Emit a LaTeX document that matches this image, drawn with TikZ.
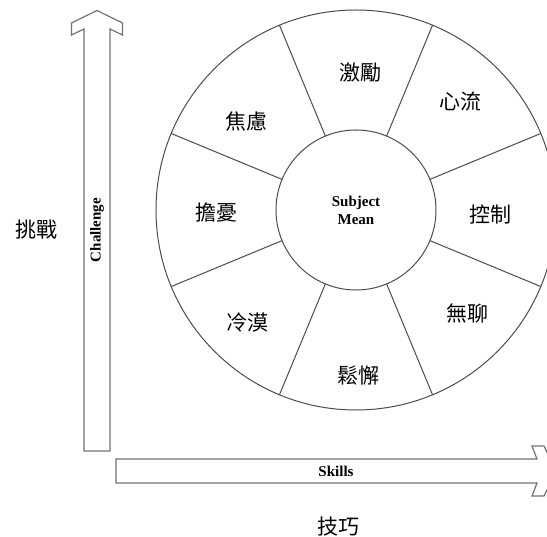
\documentclass[tikz,border=0pt]{standalone}
\usepackage{fontspec}
\setmainfont{Liberation Serif}
\newfontfamily\cjk{Noto Sans CJK TC}
\begin{document}
\begin{tikzpicture}[x=1pt, y=1pt,
    cjklabel/.style={font=\cjk\fontsize{21}{21}\selectfont},
    enlabel/.style={font=\bfseries\fontsize{15}{18}\selectfont}]

    \def\rin{80}
    \def\rout{200}
    \colorlet{ringcolor}{black!70}
    \colorlet{arrowcolor}{black!55}

    \useasboundingbox (-356,-327) rectangle (191,210);
    \clip (-356,-327) rectangle (191,210);

    % ring of eight sectors
    \draw[ringcolor, line width=1pt] (0,0) circle (\rout)
                                      (0,0) circle (\rin);
    \draw[ringcolor, line width=1pt] (22.5:\rin)  -- (22.5:\rout)
                                      (67.5:\rin)  -- (67.5:\rout)
                                      (112.5:\rin) -- (112.5:\rout)
                                      (157.5:\rin) -- (157.5:\rout)
                                      (202.5:\rin) -- (202.5:\rout)
                                      (247.5:\rin) -- (247.5:\rout)
                                      (292.5:\rin) -- (292.5:\rout)
                                      (337.5:\rin) -- (337.5:\rout);

    % hollow arrows
    \draw[arrowcolor, line width=1.2pt] (-272,-241) -- (-272,181) -- (-284.5,175)
        -- (-284.5,187) -- (-259,199.5) -- (-233.5,187) -- (-233.5,175)
        -- (-246,181) -- (-246,-241) -- cycle;
    \draw[arrowcolor, line width=1.2pt] (-240,-249) -- (181,-249) -- (176,-236)
        -- (188,-236) -- (200.5,-261) -- (188,-286) -- (176,-286)
        -- (181,-273) -- (-240,-273) -- cycle;

    \node[enlabel, rotate=90] (challenge) at (-259,-20) {Challenge};
    \node[enlabel] (skills) at (-20,-261) {Skills};
    \node[enlabel, align=center] (subject) at (0,0) {Subject\\Mean};

    \node[cjklabel] (arousal) at (88:138)   {激勵};
    \node[cjklabel] (flow)    at (46:151)   {心流};
    \node[cjklabel] (control) at (-2:135)   {控制};
    \node[cjklabel] (boredom) at (-43:152)  {無聊};
    \node[cjklabel] (relax)   at (-89:166)  {鬆懈};
    \node[cjklabel] (apathy)  at (-134:156) {冷漠};
    \node[cjklabel] (worry)   at (-179:140) {擔憂};
    \node[cjklabel] (anxiety) at (141:141)  {焦慮};

    \node[cjklabel] (ylabel) at (-319,-20)  {挑戰};
    \node[cjklabel] (xlabel) at (-17,-317)  {技巧};
\end{tikzpicture}
\end{document}
